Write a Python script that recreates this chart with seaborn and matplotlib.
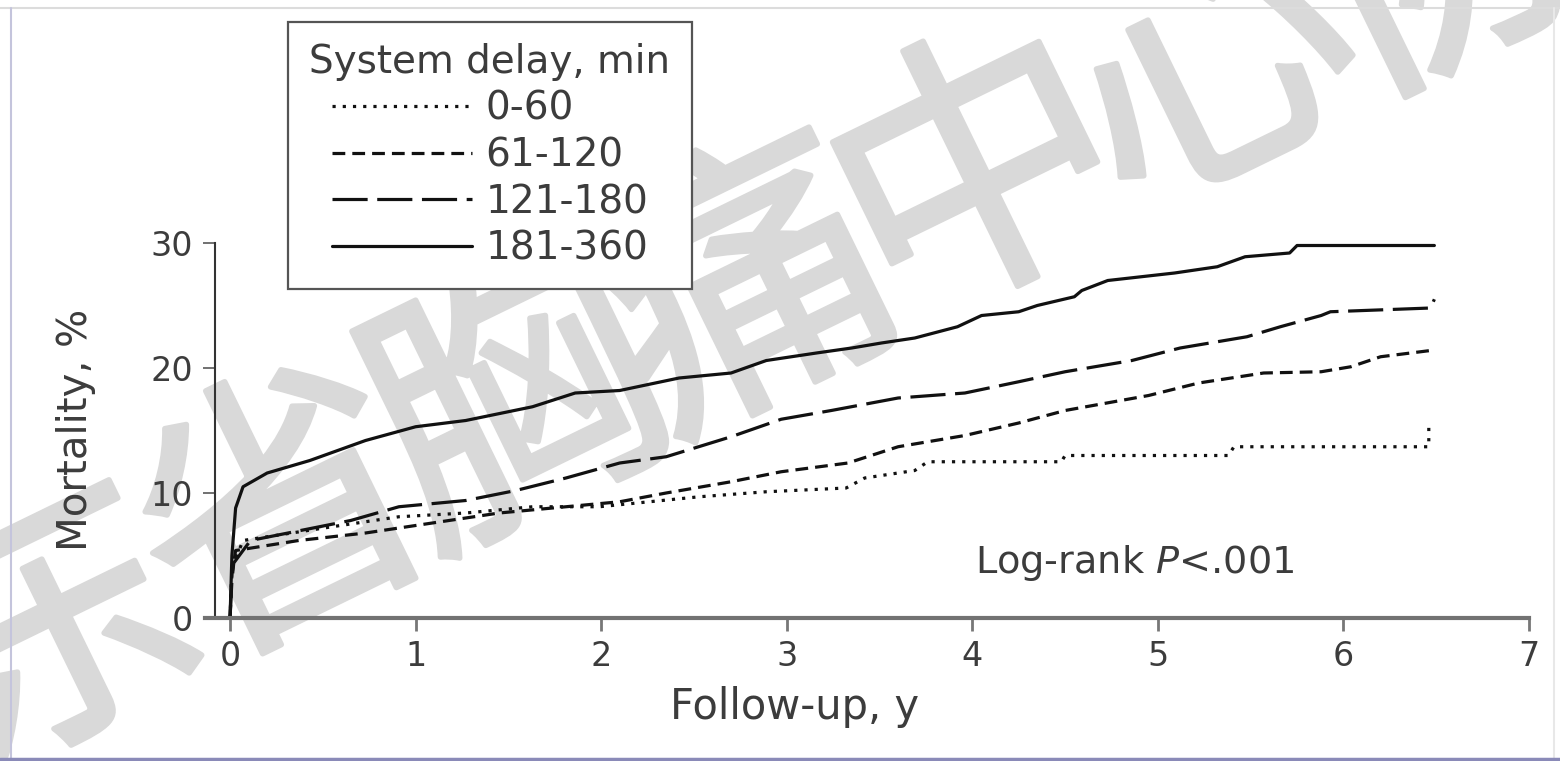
import numpy as np
import pandas as pd
import seaborn as sns
import matplotlib.pyplot as plt
import matplotlib.patheffects as pe
from matplotlib.lines import Line2D

# Kaplan-Meier style mortality curves
groups = ["0-60", "61-120", "121-180", "181-360"]

yrs_0_60 = [0, 0.01, 0.07, 0.55, 0.91, 1.27, 1.63, 1.99, 2.53, 2.89, 3.32, 3.42,
            3.69, 3.76, 4.48, 4.5, 5.38, 5.41, 6.46, 6.46]
mort_0_60 = [0, 4.0, 6.2, 7.3, 8.1, 8.4, 8.9, 8.9, 9.7, 10.1, 10.4, 11.2,
             11.8, 12.5, 12.5, 13.0, 13.0, 13.7, 13.7, 15.5]

yrs_61_120 = [0, 0.01, 0.03, 0.37, 0.73, 1.09, 1.45, 1.81, 2.1, 2.35, 2.7, 2.97,
              3.33, 3.6, 3.96, 4.25, 4.5, 4.95, 5.22, 5.57, 5.88, 6.04, 6.2, 6.47]
mort_61_120 = [0, 3.5, 5.4, 6.2, 6.8, 7.6, 8.4, 8.9, 9.3, 10.0, 10.9, 11.7,
               12.4, 13.7, 14.6, 15.6, 16.6, 17.8, 18.8, 19.6, 19.7, 20.1, 20.9, 21.4]

yrs_121_180 = [0, 0.01, 0.02, 0.11, 0.38, 0.65, 0.91, 1.27, 1.54, 1.81, 2.1, 2.35,
               2.7, 2.97, 3.24, 3.6, 3.96, 4.25, 4.5, 4.86, 5.12, 5.48, 5.66, 5.88,
               5.93, 6.47, 6.49]
mort_121_180 = [0, 3.0, 4.4, 6.2, 7.0, 7.8, 8.9, 9.4, 10.2, 11.2, 12.4, 12.9,
                14.5, 15.9, 16.6, 17.6, 18.0, 18.9, 19.7, 20.6, 21.6, 22.5, 23.3, 24.2,
                24.5, 24.8, 25.5]

yrs_181_360 = [0, 0.01, 0.03, 0.07, 0.2, 0.43, 0.73, 1.0, 1.27, 1.63, 1.86, 2.1,
               2.42, 2.7, 2.89, 3.16, 3.35, 3.51, 3.69, 3.92, 4.05, 4.25, 4.35, 4.55,
               4.59, 4.73, 5.09, 5.32, 5.47, 5.71, 5.75, 6.49]
mort_181_360 = [0, 5.0, 8.8, 10.5, 11.6, 12.6, 14.2, 15.3, 15.8, 16.9, 18.0, 18.2,
                19.2, 19.6, 20.6, 21.2, 21.6, 22.0, 22.4, 23.3, 24.2, 24.5, 25.0, 25.7,
                26.2, 27.0, 27.6, 28.1, 28.9, 29.2, 29.8, 29.8]

x_ticks = [0, 1, 2, 3, 4, 5, 6, 7]
y_ticks = [0, 10, 20, 30]
watermark = "东省胸痛中心协"

frames = []
for g, xs, ys in zip(groups,
                     [yrs_0_60, yrs_61_120, yrs_121_180, yrs_181_360],
                     [mort_0_60, mort_61_120, mort_121_180, mort_181_360]):
    frames.append(pd.DataFrame({"year": xs, "mortality": ys, "delay": g}))
df = pd.concat(frames, ignore_index=True)

sns.set_theme(style="ticks")
plt.rcParams["font.family"] = ["DejaVu Sans"]
plt.rcParams["mathtext.fontset"] = "custom"
plt.rcParams["mathtext.rm"] = "DejaVu Sans"
plt.rcParams["mathtext.it"] = "DejaVu Sans:italic"

txt = "#3c3c3c"
wm = "#d9d9d9"
W, H = 1560, 761
fig = plt.figure(figsize=(15.6, 7.61), dpi=100)
fig.patch.set_facecolor("white")

# watermark, behind the chart
for i, ch in enumerate(watermark):
    cx = 55 + 232 * i
    cy = 640 - 113 * i
    fig.text(cx / W, 1 - cy / H, ch, family=["Noto Sans CJK SC", "DejaVu Sans"],
             fontsize=205, color=wm, rotation=26,
             rotation_mode="anchor", ha="center", va="center", zorder=-5,
             path_effects=[pe.withStroke(linewidth=4, foreground=wm)])

ax = fig.add_axes([205 / W, 143 / H, 1324 / W, 603 / H])
ax.patch.set_alpha(0)

sns.lineplot(data=df, x="year", y="mortality", style="delay", style_order=groups,
             dashes={"0-60": (1, 2.2), "61-120": (4, 2.2),
                     "121-180": (11, 3), "181-360": ""},
             color="#111111", linewidth=2.3, estimator=None, sort=False, ax=ax)

ax.set_xlim(-0.135, 7.0)
ax.set_ylim(0, 48.24)
ax.set_xticks(x_ticks)
ax.set_yticks(y_ticks)

sns.despine(ax=ax)
ax.spines["left"].set_position(("data", -0.081))
ax.spines["left"].set_bounds(0, 30)
ax.spines["left"].set_color("#333333")
ax.spines["left"].set_linewidth(1.5)
ax.spines["bottom"].set_color("#727272")
ax.spines["bottom"].set_linewidth(3)

ax.tick_params(axis="x", direction="out", length=9, width=2, color="#777777",
               pad=7, labelsize=24, labelcolor=txt)
ax.tick_params(axis="y", direction="out", length=9, width=1.3, color="#666666",
               pad=7, labelsize=24, labelcolor=txt)

ax.set_xlabel("Follow-up, y", fontsize=30, color=txt)
ax.set_ylabel("Mortality, %", fontsize=29, color=txt)
ax.xaxis.set_label_coords(0.4456, -0.112)
ax.yaxis.set_label_coords(-0.082, 0.312)

ax.text(0.5816, 0.091, "Log-rank $P$<.001", transform=ax.transAxes,
        fontsize=27.5, color=txt, ha="left", va="center")

sns.move_legend(ax, "upper left", bbox_to_anchor=(288 / W, 1 - 22 / H),
                bbox_transform=fig.transFigure, borderaxespad=0,
                title="System delay, min", title_fontsize=28, fontsize=28,
                frameon=True, fancybox=False, edgecolor="#555555",
                handlelength=3.6, handletextpad=0.35, labelspacing=0.22,
                borderpad=0.55)
leg = ax.get_legend()
leg.get_frame().set_linewidth(1.6)
leg.get_frame().set_alpha(1)
leg.get_title().set_color(txt)
for t in leg.get_texts():
    t.set_color(txt)
for h in leg.legend_handles:
    h.set_linewidth(2.3)

# screenshot frame
fig.add_artist(Line2D([0, 1], [1 - 7.5 / H, 1 - 7.5 / H], color="#dcdcdc", lw=1.5))
fig.add_artist(Line2D([11 / W, 11 / W], [0, 1 - 7.5 / H], color="#c4c4dc", lw=1.5))
fig.add_artist(Line2D([1554 / W, 1554 / W], [0, 1 - 7.5 / H], color="#e8e8e8", lw=1.5))
fig.add_artist(Line2D([0, 1], [2.5 / H, 2.5 / H], color="#8a8ab8", lw=2.5))

fig.savefig("out.png", dpi=100)
